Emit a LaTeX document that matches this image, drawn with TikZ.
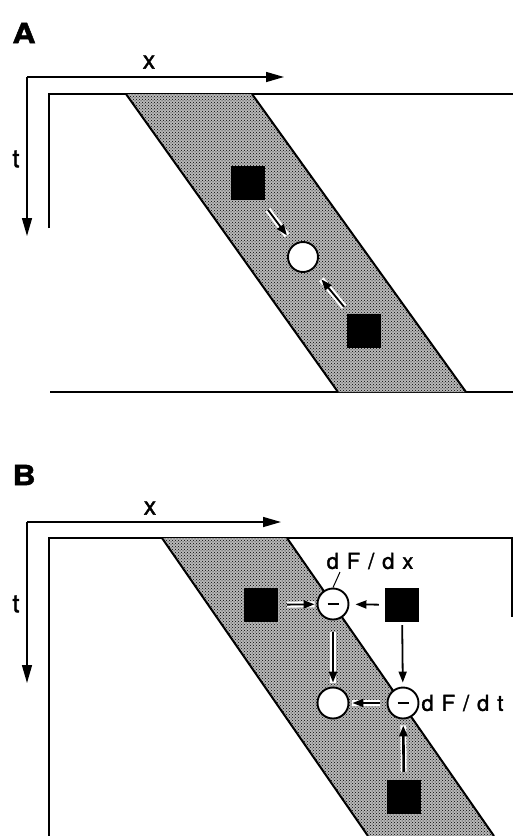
\documentclass[tikz,border=0pt]{standalone}
\usepackage{fontspec}
\usepackage{graphicx}
\setmainfont{TeX Gyre Heros}
\newfontfamily\labelfont[FakeBold=1.6]{TeX Gyre Heros}
\newfontfamily\spacedfont[LetterSpace=36,FakeBold=1.6]{TeX Gyre Heros}
\newfontfamily\panelfont[FakeBold=1.5]{TeX Gyre Heros}
\usetikzlibrary{arrows.meta,patterns}

\begin{document}
\begin{tikzpicture}[x=1pt,y=-1pt,
    cell/.style={fill=black,minimum size=34pt,inner sep=0pt},
    unit/.style={circle,draw,line width=1.9pt,fill=white,minimum size=31pt,inner sep=0pt},
    link/.style={-{Triangle[length=11pt,width=8pt]},line width=1.8pt,
                 preaction={draw=white,line width=6pt,-}},
    axis/.style={-{Triangle[length=18pt,width=10pt]},line width=1.5pt},
    frame/.style={line width=1.2pt},
    edge/.style={line width=2pt},
    band/.style={fill=black!28,postaction={pattern=crosshatch dots}},
    lbl/.style={font=\labelfont\fontsize{25pt}{28pt}\selectfont},
    dlbl/.style={font=\spacedfont\fontsize{22pt}{26pt}\selectfont},
    panel/.style={font=\panelfont\bfseries\fontsize{28pt}{30pt}\selectfont}]
  \useasboundingbox (0,0) rectangle (513,836);

  % ---------- Panel A ----------
  \node[panel] (labA) at (24,33) {\scalebox{1.15}[1]{A}};
  \coordinate (oA) at (27,77);
  \coordinate (xA) at (284,77);
  \coordinate (tA) at (27,236);
  \draw[axis] (oA) -- (xA);
  \draw[axis] (oA) -- (tA);
  \node[lbl] (xlabA) at (149,62) {x};
  \node[lbl] (tlabA) at (16,159) {t};

  % frame
  \draw[frame] (49,228) -- (49,94) -- (513,94);
  \draw[frame] (50,392) -- (513,392);

  % stippled band
  \path[band] (126,94) -- (252,94) -- (466,392) -- (338,392) -- cycle;
  \draw[edge] (126,94) -- (338,392);
  \draw[edge] (252,94) -- (466,392);

  % units
  \node[cell] (sqA1) at (248,183) {};
  \node[unit,minimum size=30pt] (cA) at (303,257) {};
  \node[cell] (sqA2) at (364,331) {};
  \draw[link,shorten <=12pt,shorten >=11pt] (sqA1) -- (cA);
  \draw[link,shorten <=9pt,shorten >=13pt] (sqA2) -- (cA);

  % ---------- Panel B ----------
  \node[panel] (labB) at (24,475) {\scalebox{1.15}[1]{B}};
  \coordinate (oB) at (27,522);
  \coordinate (xB) at (281,522);
  \coordinate (tB) at (27,683);
  \draw[axis] (oB) -- (xB);
  \draw[axis] (oB) -- (tB);
  \node[lbl] (xlabB) at (150,508) {x};
  \node[lbl] (tlabB) at (16,604) {t};

  % frame
  \draw[frame] (49,836) -- (49,538) -- (512,538) -- (512,617);

  % stippled band
  \path[band] (162,538) -- (287,538) -- (494,836) -- (368,836) -- cycle;
  \draw[edge] (162,538) -- (368,836);
  \draw[edge] (287,538) -- (494,836);

  % units
  \node[cell] (sqB1) at (261,605) {};
  \node[unit] (cdx) at (333,604) {\rule{11pt}{2.8pt}};
  \node[cell] (sqB2) at (402,605) {};
  \node[unit] (cnew) at (333,703) {};
  \node[unit] (cdt) at (403,703) {\rule{11pt}{2.8pt}};
  \node[cell] (sqB3) at (404,797) {};

  % labels
  \node[dlbl] (ldx) at (370,561) {dF/dx};
  \node[dlbl,anchor=west] (ldt) at (418,703) {dF/dt};
  \coordinate (tickdx) at (340,572);
  \draw[line width=1pt] (cdx.north) -- (tickdx);

  % connections
  \draw[link,shorten <=9pt,shorten >=2pt] (sqB1) -- (cdx);
  \draw[link,shorten <=6pt,shorten >=6pt] (sqB2) -- (cdx);
  \draw[link,shorten <=12pt,shorten >=4pt] (cdx) -- (cnew);
  \draw[link,shorten <=3pt,shorten >=4pt] (sqB2) -- (cdt);
  \draw[link,shorten <=7pt,shorten >=3pt] (cdt) -- (cnew);
  \draw[link,line width=2.6pt,shorten <=8pt,shorten >=6pt] (sqB3) -- (cdt);
\end{tikzpicture}
\end{document}
